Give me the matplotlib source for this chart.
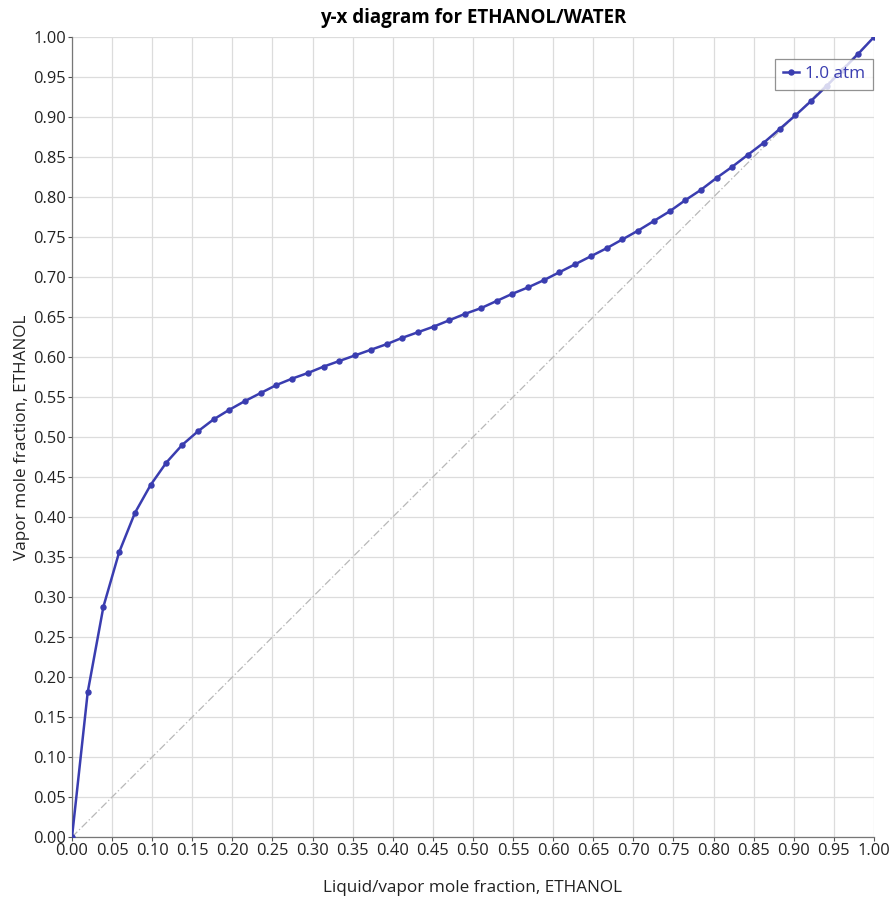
import matplotlib
matplotlib.use("Agg")
import matplotlib.pyplot as plt
import numpy as np

# Liquid mole fraction of ethanol (x) and equilibrium vapor mole fraction (y) at 1.0 atm
x_liq = [0.0000, 0.0196, 0.0392, 0.0588, 0.0784, 0.0980, 0.1176, 0.1373, 0.1569,
         0.1765, 0.1961, 0.2157, 0.2353, 0.2549, 0.2745, 0.2941, 0.3137, 0.3333,
         0.3529, 0.3725, 0.3922, 0.4118, 0.4314, 0.4510, 0.4706, 0.4902, 0.5098,
         0.5294, 0.5490, 0.5686, 0.5882, 0.6078, 0.6275, 0.6471, 0.6667, 0.6863,
         0.7059, 0.7255, 0.7451, 0.7647, 0.7843, 0.8039, 0.8235, 0.8431, 0.8627,
         0.8824, 0.9020, 0.9216, 0.9412, 0.9608, 0.9804, 1.0000]
y_vap = [0.0000, 0.181, 0.288, 0.356, 0.405, 0.440, 0.468, 0.490, 0.507,
         0.522, 0.534, 0.545, 0.555, 0.565, 0.573, 0.580, 0.588, 0.595,
         0.602, 0.609, 0.616, 0.624, 0.631, 0.638, 0.646, 0.654, 0.661,
         0.670, 0.679, 0.687, 0.696, 0.706, 0.716, 0.726, 0.736, 0.747,
         0.758, 0.770, 0.782, 0.796, 0.809, 0.824, 0.838, 0.853, 0.868,
         0.885, 0.902, 0.920, 0.939, 0.959, 0.979, 1.000]
series_label = "1.0 atm"
diag = [0.0, 1.0]
ticks = [round(v, 2) for v in np.arange(0, 1.0001, 0.05)]

plt.rcParams['font.family'] = ['Open Sans', 'DejaVu Sans']

fig = plt.figure(figsize=(8.91, 8.98), dpi=100)
ax = fig.add_axes([0.0808, 0.0679, 0.9001, 0.8909])

line_color = "#3a3db0"
ax.plot(diag, diag, color="#b8b8b8", lw=0.9, linestyle=(0, (6, 2, 1, 2)), zorder=2)
ax.plot(x_liq, y_vap, color=line_color, lw=1.8, marker="o", markersize=3.6,
        markerfacecolor=line_color, markeredgecolor=line_color, label=series_label, zorder=3)

ax.set_xlim(0, 1)
ax.set_ylim(0, 1)
ax.set_xticks(ticks)
ax.set_yticks(ticks)
ax.set_xticklabels([f"{t:.2f}" for t in ticks])
ax.set_yticklabels([f"{t:.2f}" for t in ticks])
ax.tick_params(axis="both", labelsize=11.8, colors="#555555", labelcolor="#222222",
               length=3, width=0.8, pad=1.5)
ax.grid(True, color="#dcdcdc", lw=0.9)
ax.set_axisbelow(True)
for side in ("top", "right"):
    ax.spines[side].set_visible(False)
for side in ("left", "bottom"):
    ax.spines[side].set_color("#777777")
    ax.spines[side].set_linewidth(0.9)

ax.set_title("y-x diagram for ETHANOL/WATER", fontsize=13.5, fontweight="bold", pad=10)
ax.set_xlabel("Liquid/vapor mole fraction, ETHANOL", fontsize=12.3, color="#222222", labelpad=15)
ax.set_ylabel("Vapor mole fraction, ETHANOL", fontsize=12.3, color="#222222", labelpad=2)

leg = ax.legend(loc="upper right", bbox_to_anchor=(0.999, 0.973), fontsize=12.3,
                frameon=True, fancybox=False, handlelength=0.9, handletextpad=0.4,
                borderpad=0.45, borderaxespad=0.0)
leg.get_frame().set_edgecolor("#777777")
leg.get_frame().set_linewidth(0.9)
for t in leg.get_texts():
    t.set_color(line_color)

fig.savefig("out.png", dpi=100)
